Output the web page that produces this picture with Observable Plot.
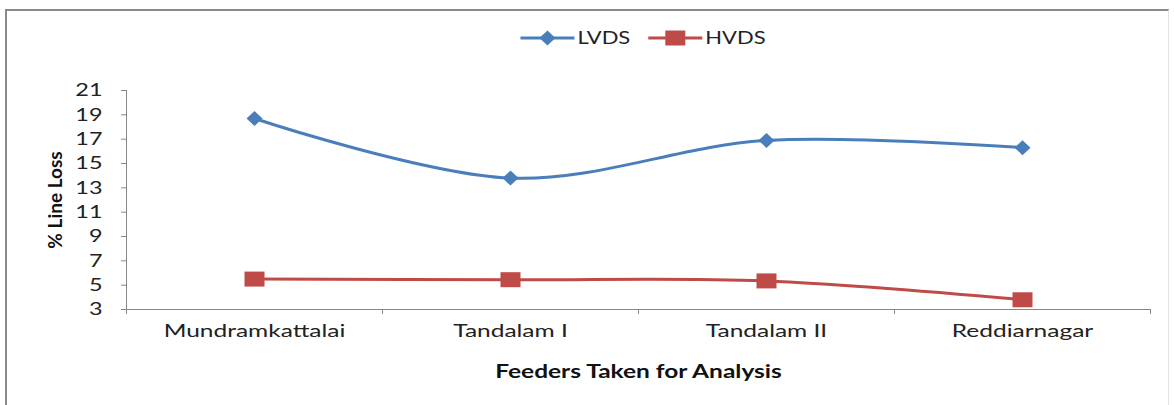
<!DOCTYPE html>
<html><head><meta charset="utf-8">
<script src="https://cdn.jsdelivr.net/npm/d3@7"></script>
<script src="https://cdn.jsdelivr.net/npm/@observablehq/plot@0.6"></script>
<style>
body{margin:0;background:#fff;}
#wrap{position:relative;width:1174px;height:405px;overflow:hidden;font-family:Lato,sans-serif;background:#fff;}
#frame{position:absolute;left:5px;top:9px;width:1164px;height:430px;border-top:2px solid #8a8a8a;border-left:2px solid #8a8a8a;border-right:1px solid #e2e2e2;box-sizing:border-box;pointer-events:none;}
#legend{height:64px;}
#chart svg{display:block;}
</style></head><body>
<div id="wrap"><div id="legend"></div><div id="chart"></div><div id="frame"></div></div>
<script>
// ---- data ----
const feeders = ["Mundramkattalai", "Tandalam I", "Tandalam II", "Reddiarnagar"];
const lvds = [18.7, 13.8, 16.9, 16.3];
const hvds = [5.5, 5.45, 5.35, 3.8];
const seriesNames = ["LVDS", "HVDS"];
const yTicks = [3, 5, 7, 9, 11, 13, 15, 17, 19, 21];
const xTitle = "Feeders Taken for Analysis";
const yTitle = "% Line Loss";

// ---- styles ----
const colors = {LVDS: "#4A7EBB", HVDS: "#BE4B48"};
const STRETCH_X = 1.36;
const STRETCH_Y = 1.3;
const STRETCH_LEG = 1.22;
const diamond = {draw(ctx) { const w = 8, h = 7.5; ctx.moveTo(0, -h); ctx.lineTo(w, 0); ctx.lineTo(0, h); ctx.lineTo(-w, 0); ctx.closePath(); }};
const square = {draw(ctx) { const w = 10, h = 7.5; ctx.moveTo(-w, -h); ctx.lineTo(w, -h); ctx.lineTo(w, h); ctx.lineTo(-w, h); ctx.closePath(); }};
const symbols = {LVDS: diamond, HVDS: square};

const rows = [];
feeders.forEach((f, i) => {
  rows.push({i, feeder: f, series: "LVDS", value: lvds[i]});
  rows.push({i, feeder: f, series: "HVDS", value: hvds[i]});
});
const bounds = feeders.map((_, i) => i - 0.5).concat([feeders.length - 0.5]);
const axisColor = "#868686";

const chart = Plot.plot({
  width: 1174, height: 341,
  marginLeft: 126, marginRight: 24, marginTop: 26, marginBottom: 96,
  style: {fontFamily: "Lato, sans-serif", fontSize: "18px", color: "#222", background: "transparent", overflow: "visible"},
  x: {type: "linear", domain: [-0.5, feeders.length - 0.5]},
  y: {domain: [3, 21]},
  color: {domain: seriesNames, range: seriesNames.map(s => colors[s])},
  marks: [
    Plot.ruleY([3], {stroke: axisColor}),
    Plot.ruleX([-0.5], {stroke: axisColor}),
    Plot.axisY({ticks: yTicks, tickSize: 5, tickPadding: 19, stroke: axisColor, fill: "#222", tickFormat: d => d, label: yTitle, labelAnchor: "center", labelOffset: 78, labelArrow: "none"}),
    Plot.axisX({ticks: bounds, tickSize: 5, stroke: axisColor, tickFormat: () => "", label: null}),
    Plot.axisX({ticks: feeders.map((_, i) => i), tickSize: 0, tickPadding: 15, fill: "#222", tickFormat: i => feeders[i], label: xTitle, labelAnchor: "center", labelOffset: 68, labelArrow: "none"}),
    Plot.line(rows, {x: "i", y: "value", z: "series", stroke: "series", curve: "catmull-rom", strokeWidth: 3}),
    ...seriesNames.map(s => Plot.dot(rows.filter(d => d.series === s), {x: "i", y: "value", symbol: symbols[s], r: 8, fill: colors[s], stroke: "none"}))
  ]
});
document.getElementById("chart").appendChild(chart);

// strip any label arrows, bold axis titles
chart.querySelectorAll('g[aria-label="x-axis label"] text, g[aria-label="y-axis label"] text').forEach(t => {
  t.textContent = t.textContent.replace(/\s*[→←↑↓]\s*/g, "");
  t.setAttribute("font-weight", "bold"); t.setAttribute("fill", "#111");
});
chart.querySelectorAll('g[aria-label="y-axis label"] text').forEach(t => t.setAttribute("font-size", "19px"));
// horizontal stretch of horizontal texts (reference is stretched)
chart.querySelectorAll("text").forEach(t => {
  const g = t.closest("g");
  const lab = g ? g.getAttribute("aria-label") : "";
  if (lab === "y-axis label") return;
  const k = lab && lab.startsWith("y-axis") ? STRETCH_Y : STRETCH_X;
  const L = t.getComputedTextLength();
  if (L > 0) { t.setAttribute("textLength", L * k); t.setAttribute("lengthAdjust", "spacingAndGlyphs"); }
});

// ---- legend ----
const lsvg = d3.select("#legend").append("svg").attr("width", 1174).attr("height", 64)
  .style("display", "block").style("font-family", "Lato, sans-serif").style("font-size", "18px");
const groups = seriesNames.map(s => {
  const g = lsvg.append("g");
  g.append("line").attr("x1", 0).attr("x2", 54).attr("stroke", colors[s]).attr("stroke-width", 3);
  const p = d3.path(); symbols[s].draw(p);
  g.append("path").attr("d", p.toString()).attr("transform", "translate(27,0)").attr("fill", colors[s]);
  const t = g.append("text").attr("x", 57).attr("dy", "0.36em").attr("fill", "#222").text(s);
  const L = t.node().getComputedTextLength() * STRETCH_LEG;
  t.attr("textLength", L).attr("lengthAdjust", "spacingAndGlyphs");
  return {g, w: 57 + L};
});
const gap = 18;
const total = groups.reduce((a, d) => a + d.w, 0) + gap * (groups.length - 1);
let x0 = 643 - total / 2;
groups.forEach(d => { d.g.attr("transform", `translate(${x0},38)`); x0 += d.w + gap; });
</script>
</body></html>
